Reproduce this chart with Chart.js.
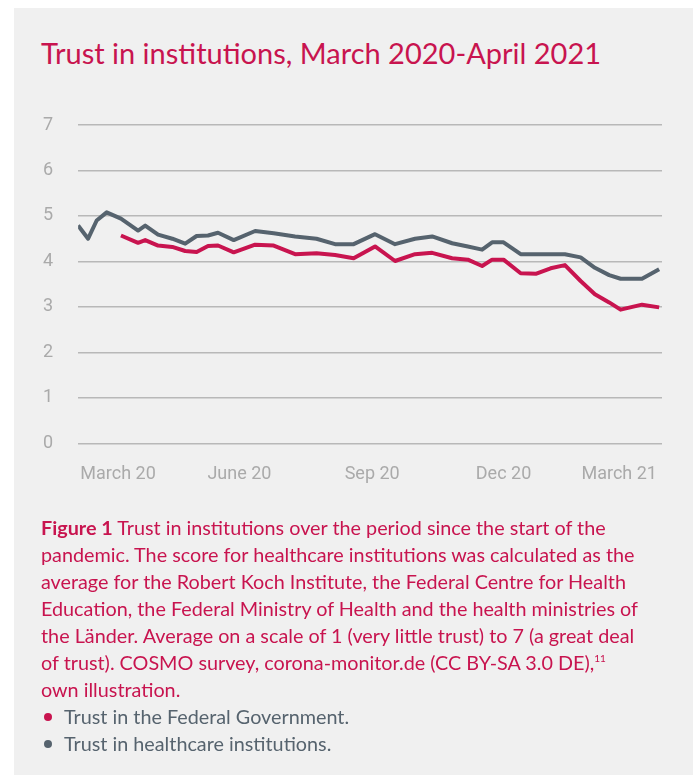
<!DOCTYPE html>
<html>
<head>
<meta charset="utf-8">
<script src="https://cdn.jsdelivr.net/npm/chart.js@4"></script>
<style>
  body { margin: 0; background: #fff; width: 693px; height: 775px; overflow: hidden; }
  .panel { position: absolute; left: 14px; top: 8px; width: 679px; height: 767px; background: #f0f0f0; }
  .title {
    position: absolute; left: 27px; top: 28px; white-space: nowrap;
    font-family: Lato, "Open Sans", sans-serif; font-size: 29px; line-height: 34.8px; color: #c8144f;
  }
  .chart-box { position: absolute; left: 0; top: 0; width: 679px; height: 511px; }
  .caption {
    position: absolute; left: 27px; top: 506px; width: 650px;
    font-family: Lato, "Open Sans", sans-serif; font-size: 19.8px; line-height: 27px;
    color: #c8144f; white-space: nowrap;
  }
  .caption b { font-weight: bold; }
  .caption sup { font-size: 10px; line-height: 0; vertical-align: 8px; }
  .legend-row { color: #56636e; position: relative; padding-left: 23px; }
  .dot { position: absolute; left: 3px; top: 10px; width: 8px; height: 8px; border-radius: 50%; }
</style>
</head>
<body>
<div class="panel">
  <div class="title">Trust in institutions, March 2020-April 2021</div>
  <div class="chart-box"><canvas id="trust"></canvas></div>
  <div class="caption">
    <div><b>Figure 1</b> Trust in institutions over the period since the start of the</div>
    <div>pandemic. The score for healthcare institutions was calculated as the</div>
    <div>average for the Robert Koch Institute, the Federal Centre for Health</div>
    <div>Education, the Federal Ministry of Health and the health ministries of</div>
    <div>the Länder. Average on a scale of 1 (very little trust) to 7 (a great deal</div>
    <div>of trust). COSMO survey, corona-monitor.de (CC BY-SA 3.0 DE),<sup>11</sup></div>
    <div>own illustration.</div>
    <div class="legend-row"><span class="dot" style="background:#c8144f"></span>Trust in the Federal Government.</div>
    <div class="legend-row"><span class="dot" style="background:#56636e"></span>Trust in healthcare institutions.</div>
  </div>
</div>
<script>
// survey waves, days since the first wave (early March 2020)
const waveDays = [0, 7, 13, 20, 30, 42, 47, 56, 66, 75, 83, 91, 98, 109, 124, 137, 152, 167, 180, 193,
  208, 222, 236, 248, 262, 273, 283, 290, 298, 310, 321, 331, 341, 352, 362, 372, 380, 395, 407];

// mean trust, scale 1-7
const healthcare = [4.79, 4.50, 4.90, 5.08, 4.94, 4.68, 4.79, 4.59, 4.50, 4.39, 4.56, 4.57, 4.63, 4.47,
  4.67, 4.62, 4.55, 4.50, 4.38, 4.38, 4.60, 4.38, 4.50, 4.55, 4.40, 4.33, 4.26, 4.42, 4.42, 4.16,
  4.16, 4.16, 4.16, 4.09, 3.86, 3.70, 3.62, 3.62, 3.83];
const government = [null, null, null, null, 4.57, 4.41, 4.47, 4.35, 4.32, 4.23, 4.21, 4.34, 4.35, 4.20,
  4.37, 4.35, 4.16, 4.18, 4.14, 4.07, 4.33, 4.01, 4.16, 4.19, 4.07, 4.04, 3.90, 4.04, 4.04, 3.74,
  3.73, 3.85, 3.92, 3.57, 3.28, 3.10, 2.94, 3.05, 2.99];

const tickDays = [28, 113, 206, 298, 379];
const tickLabels = ['March 20', 'June 20', 'Sep 20', 'Dec 20', 'March 21'];

const pink = '#c8144f';
const slate = '#56636e';

const toPoints = vals => waveDays.map((d, i) => ({ x: d, y: vals[i] }));

new Chart(document.getElementById('trust'), {
  type: 'line',
  data: {
    datasets: [
      {
        label: 'Trust in the Federal Government',
        data: toPoints(government),
        borderColor: pink,
        borderWidth: 4,
        pointRadius: 0,
        borderJoinStyle: 'round',
        spanGaps: false
      },
      {
        label: 'Trust in healthcare institutions',
        data: toPoints(healthcare),
        borderColor: slate,
        borderWidth: 4,
        pointRadius: 0,
        borderJoinStyle: 'round'
      }
    ]
  },
  options: {
    responsive: true,
    maintainAspectRatio: false,
    animation: false,
    layout: { padding: { left: 4, right: 31, top: 117, bottom: 14 } },
    scales: {
      x: {
        type: 'linear',
        min: 0,
        max: 409,
        grid: { display: false, drawTicks: false },
        border: { display: false },
        afterBuildTicks: scale => { scale.ticks = tickDays.map(v => ({ value: v })); },
        ticks: {
          autoSkip: false,
          maxRotation: 0,
          padding: 20,
          color: '#aaaaaa',
          font: { family: 'Roboto', size: 18 },
          callback: (value, index) => tickLabels[index]
        }
      },
      y: {
        min: 0,
        max: 7,
        grid: { color: '#b8b8b8', lineWidth: 1.5, drawTicks: false },
        border: { display: false },
        ticks: {
          stepSize: 1,
          padding: 25,
          color: '#aaaaaa',
          font: { family: 'Roboto', size: 18 }
        }
      }
    },
    plugins: {
      legend: { display: false },
      tooltip: { enabled: false }
    }
  }
});
</script>
</body>
</html>
